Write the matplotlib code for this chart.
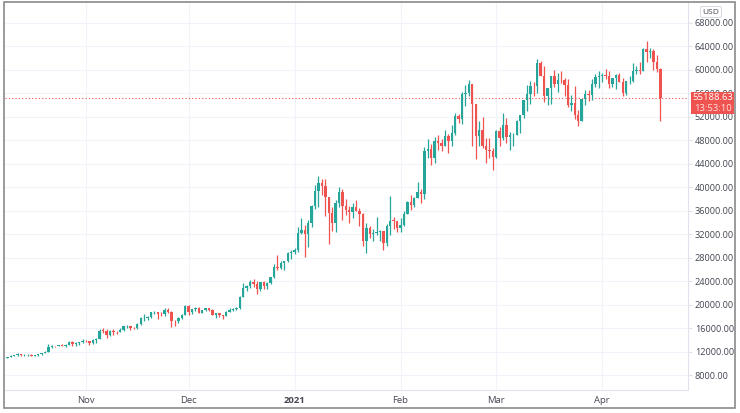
import matplotlib
matplotlib.use("Agg")
import matplotlib.pyplot as plt
import matplotlib.dates as mdates
import matplotlib.transforms as mtransforms
from matplotlib.patches import Rectangle
import pandas as pd
import numpy as np

start_date = "2020-10-09"

opens = [
 10930,11060,11300,11380,11550,11430,11430,11500,11330,11370,11510,11750,11920,12820,12970,12930,13110,13030,13070,13650,13280,13460,13560,
 13800,13760,13550,14030,14150,15590,15580,14840,15480,15330,15300,15700,16280,16330,16070,15960,16730,17650,17780,17820,18680,18710,18420,18360,19160,18720,17150,17140,17720,18180,
 19700,18770,19220,19420,18650,19150,19360,19170,18320,18550,18250,18040,18800,19170,19270,19440,21380,22830,23140,23870,23480,22750,23820,23250,23720,24690,26490,26280,27080,27360,28880,
 28950,29370,32130,32780,31970,33990,36820,39370,40800,40250,38350,35570,33920,37320,39190,36830,36050,35820,36630,35890,35470,30830,33000,32100,32270,32370,32570,30430,33470,34320,34290,
 33110,33520,35510,37470,36930,38140,39270,38900,46200,46480,44920,47910,47500,47100,48720,47940,49200,52150,51680,55890,56100,57540,54200,48820,49700,47090,46340,46190,
 45140,49630,48380,50540,48560,48880,48880,51210,52380,54880,55860,57330,57250,61190,59000,55630,56900,58910,57650,58340,58240,57350,54100,54340,52300,51310,55030,55850,55780,57620,58780,
 58920,59100,59040,57520,58640,59120,57870,56010,58080,58110,59780,59990,59860,63500,62970,63220,61420,60070,
]
highs = [
 11100,11490,11440,11720,11560,11550,11620,11540,11400,11520,11820,12030,13220,13180,13030,13170,13350,13240,13790,13850,13640,13660,14100,
 13900,13820,14070,14240,15770,15970,15770,15650,15840,15460,15960,16340,16480,16340,16150,16880,17860,18480,18140,18800,18970,18750,18770,19420,19480,18900,17470,17900,18350,19860,
 19920,19310,19590,19520,19170,19410,19420,19290,18640,18560,18270,18950,19400,19350,19570,21560,23770,23280,24170,24290,24100,23830,24100,23780,24780,26870,28420,27420,27400,28990,29300,
 29680,33300,34780,33600,34440,36940,40370,41950,41350,41420,38350,36630,37780,40000,39700,37950,36850,37400,37860,36400,35590,33830,33450,32940,34870,32800,32570,33780,38530,34880,34340,
 34700,35900,37660,38700,38310,40950,39710,46790,48200,47310,48630,48980,48150,49700,49000,50600,52610,52500,56300,57490,58350,57540,54200,51350,52040,48420,48380,46710,
 49780,50200,52660,51840,49450,49200,51450,52400,54900,57390,58150,58000,61790,61600,60600,56920,58980,60030,59460,59830,58550,58400,55800,57200,53200,55100,56600,56580,58400,59370,59800,
 59470,60200,59800,58500,59250,59500,58650,58150,58900,61200,60700,61300,63800,64850,63800,63520,62500,60400,
]
lows = [
 10830,11050,11280,11210,11250,11300,11280,11220,11300,11330,11420,11690,11900,12700,12730,12900,12900,12780,13050,12910,12990,13130,13430,
 13620,13200,13290,13540,14100,15200,14350,14710,14840,15080,15280,15460,15990,15720,15800,15870,16560,17210,17340,17750,18390,17640,18000,18020,18510,16190,16440,16880,17520,18180,
 18320,18340,18930,18570,18500,18900,18900,18200,17650,17910,17580,18020,18730,19000,19080,19300,21230,22350,22800,23060,21830,22370,22700,22720,23440,24520,25850,26100,25880,27320,27850,
 28650,28950,32010,28130,29900,33290,36300,36570,38720,35110,30420,32530,32430,36700,34400,35360,33850,34750,35880,33420,30070,28850,31400,30870,31940,30830,29240,30000,31950,32900,32300,
 32300,33420,35390,36160,36600,38140,37350,37990,45000,43730,44100,46280,46200,47000,45900,47060,48950,50880,50710,53860,55480,46990,44900,47000,46680,44100,45000,43000,
 45000,47050,48120,47500,46300,47100,48880,49300,51850,53030,54270,55510,56120,58960,54600,53960,54140,57070,56300,57850,55500,53700,53000,51700,50400,51300,53950,54700,54900,57020,56870,
 57930,58450,56900,57050,56800,57880,55470,55700,57650,57950,59300,59380,59800,61300,62050,60000,59600,51300,
]
closes = [
 11060,11300,11380,11550,11430,11430,11500,11330,11370,11510,11750,11920,12820,12970,12930,13110,13030,13070,13650,13280,13460,13560,13800,
 13760,13550,14030,14150,15590,15580,14840,15480,15330,15300,15700,16280,16330,16070,15960,16730,17650,17780,17820,18680,18710,18420,18360,19160,18720,17150,17140,17720,18180,19700,
 18770,19220,19420,18650,19150,19360,19170,18320,18550,18250,18040,18800,19170,19270,19440,21380,22830,23140,23870,23480,22750,23820,23250,23720,24690,26490,26280,27080,27360,28880,28950,
 29370,32130,32780,31970,33990,36820,39370,40800,40250,38350,35570,33920,37320,39190,36830,36050,35820,36630,35890,35470,30830,33000,32100,32270,32370,32570,30430,33470,34320,34290,33110,
 33520,35510,37470,36930,38140,39270,38900,46200,46480,44920,47910,47500,47100,48720,47940,49200,52150,51680,55890,56100,57540,54200,48820,49700,47090,46340,46190,45140,
 49630,48380,50540,48560,48880,48880,51210,52380,54880,55860,57330,57250,61190,59000,55630,56900,58910,57650,58340,58240,57350,54100,54340,52300,51310,55030,55850,55780,57620,58780,58920,
 59100,59040,57520,58640,59120,57870,56010,58080,58110,59780,59990,59860,63500,62970,63220,61420,60070,55188.63,
]
last_price = 55188.63
countdown = "13:53:10"
currency = "USD"
price_ticks = list(range(8000, 68001, 4000))
month_ticks = ["2020-11-01", "2020-12-01", "2021-01-01", "2021-02-01", "2021-03-01", "2021-04-01"]
month_labels = ["Nov", "Dec", "2021", "Feb", "Mar", "Apr"]

UP = "#26a69a"
DOWN = "#ef5350"
GRID = "#f0f3fa"
TXT = "#434651"
FAM = ["Open Sans", "DejaVu Sans"]

dates = pd.date_range(start_date, periods=len(closes), freq="D")
x = mdates.date2num(dates)
o = np.array(opens, float); h = np.array(highs, float)
l = np.array(lows, float); c = np.array(closes, float)
cols = np.where(c >= o, UP, DOWN)

W, H = 740, 413
fig = plt.figure(figsize=(W/100, H/100), dpi=100)
fig.patch.set_facecolor("white")
ax = fig.add_axes([5/W, 1-390/H, (688-5)/W, (390-3)/H])

ax.vlines(x, l, h, colors=cols, linewidth=0.9, zorder=3)
body_bottom = np.minimum(o, c)
body_h = np.maximum(np.abs(c - o), 60)
ax.bar(x, body_h, bottom=body_bottom, width=0.7, color=cols, edgecolor=cols, linewidth=0, zorder=4)

ax.set_ylim(5460, 71400)
x0 = mdates.date2num(pd.Timestamp("2020-11-01"))
ax.set_xlim(x0 - 23.7, x0 + 151 + 25.1)

ax.axhline(last_price, color=DOWN, linestyle=(0, (1, 2)), linewidth=0.8, zorder=2)

ax.yaxis.tick_right()
ax.set_yticks(price_ticks)
ax.set_yticklabels([f"{v:.2f}" for v in price_ticks])
ax.set_xticks(mdates.date2num(pd.to_datetime(month_ticks)))
ax.set_xticklabels(month_labels)
for lab in ax.get_xticklabels():
    if lab.get_text() == "2021":
        lab.set_fontweight("bold")
ax.tick_params(axis="y", length=3, color="#e0e3eb", labelsize=6.6, labelcolor=TXT, pad=2)
ax.tick_params(axis="x", length=0, labelsize=6.8, labelcolor=TXT, pad=4)
for lab in ax.get_yticklabels() + ax.get_xticklabels():
    lab.set_family(FAM)

ax.grid(True, color=GRID, linewidth=0.8, zorder=0)
ax.set_axisbelow(True)
for s in ["top", "left"]:
    ax.spines[s].set_visible(False)
for s in ["bottom", "right"]:
    ax.spines[s].set_color("#e0e3eb")
    ax.spines[s].set_linewidth(0.8)

# last price label box
trans = mtransforms.blended_transform_factory(ax.transAxes, ax.transData)
px = (71400 - 5460) / 387.0
bx0 = 3 / 683.0
bw = 43 / 683.0
rect = Rectangle((1.0 + bx0, last_price - 15.5 * px), bw, 22 * px, transform=trans,
                 facecolor=DOWN, edgecolor="none", clip_on=False, zorder=10)
ax.add_patch(rect)
ax.text(1.0 + bx0 + bw / 2, last_price + 0.5 * px, f"{last_price:.2f}", transform=trans, ha="center", va="center",
        fontsize=6.8, color="white", family=FAM, zorder=11, clip_on=False)
ax.text(1.0 + bx0 + bw / 2, last_price - 10.5 * px, countdown, transform=trans, ha="center", va="center",
        fontsize=6.8, color="#fde0df", family=FAM, zorder=11, clip_on=False)

# currency label
fig.text(711/W, 1-12/H, currency, ha="center", va="center", fontsize=6, color=TXT,
         family=FAM,
         bbox=dict(boxstyle="round,pad=0.25", facecolor="white", edgecolor="#d1d4dc", linewidth=0.6))

# outer frame
frame = Rectangle((4/W, 1-408/H), (735-4)/W, (408-2)/H, transform=fig.transFigure,
                  facecolor="none", edgecolor="#8a8a8a", linewidth=1.2)
fig.patches.append(frame)

fig.savefig("out.png", dpi=100)
